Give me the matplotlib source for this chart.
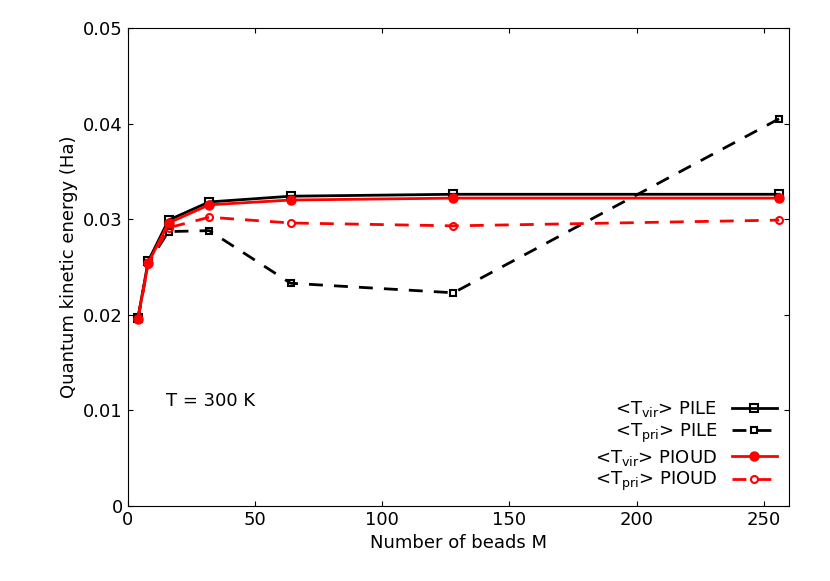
import matplotlib
matplotlib.use("Agg")
import matplotlib.pyplot as plt

beads = [4, 8, 16, 32, 64, 128, 256]
tvir_pile = [0.0197, 0.0256, 0.0299, 0.0318, 0.0324, 0.0326, 0.0326]
tpri_pile = [0.0196, 0.0254, 0.0287, 0.0288, 0.0233, 0.0223, 0.0405]
tvir_pioud = [0.0196, 0.0254, 0.0296, 0.0315, 0.0320, 0.0322, 0.0322]
tpri_pioud = [0.0196, 0.0253, 0.0291, 0.0302, 0.0296, 0.0293, 0.0299]

fig = plt.figure(figsize=(8.3, 5.81), dpi=100)
ax = fig.add_axes([0.154, 0.129, 0.797, 0.823])
ax.plot(beads, tvir_pile, '-', color='black', lw=2, marker='s', ms=6, mfc='none', mew=1.5, label=r'<T$_{\rm vir}$> PILE')
ax.plot(beads, tpri_pile, '--', color='black', lw=2, marker='s', ms=5, mfc='none', mew=1.5, dashes=(5, 4), label=r'<T$_{\rm pri}$> PILE')
ax.plot(beads, tvir_pioud, '-', color='#ff0000', lw=2, marker='o', ms=6, mfc='#ff0000', mew=1.5, label=r'<T$_{\rm vir}$> PIOUD')
ax.plot(beads, tpri_pioud, '--', color='#ff0000', lw=2, marker='o', ms=5, mfc='none', mew=1.5, dashes=(5, 4), label=r'<T$_{\rm pri}$> PIOUD')
ax.set_xlim(0, 260)
ax.set_ylim(0, 0.05)
ax.set_xticks([0, 50, 100, 150, 200, 250])
ax.set_yticks([0, 0.01, 0.02, 0.03, 0.04, 0.05])
ax.set_yticklabels(['0', '0.01', '0.02', '0.03', '0.04', '0.05'])
ax.tick_params(direction='in', top=True, right=True, labelsize=13)
ax.set_xlabel('Number of beads M', fontsize=13)
ax.set_ylabel('Quantum kinetic energy (Ha)', fontsize=13)
ax.text(15, 0.0105, 'T = 300 K', fontsize=13)
ax.legend(loc='lower right', markerfirst=False, frameon=False, fontsize=13, handlelength=2.5,
          labelspacing=0.15, borderaxespad=0.3)
fig.savefig('out.png', dpi=100)
